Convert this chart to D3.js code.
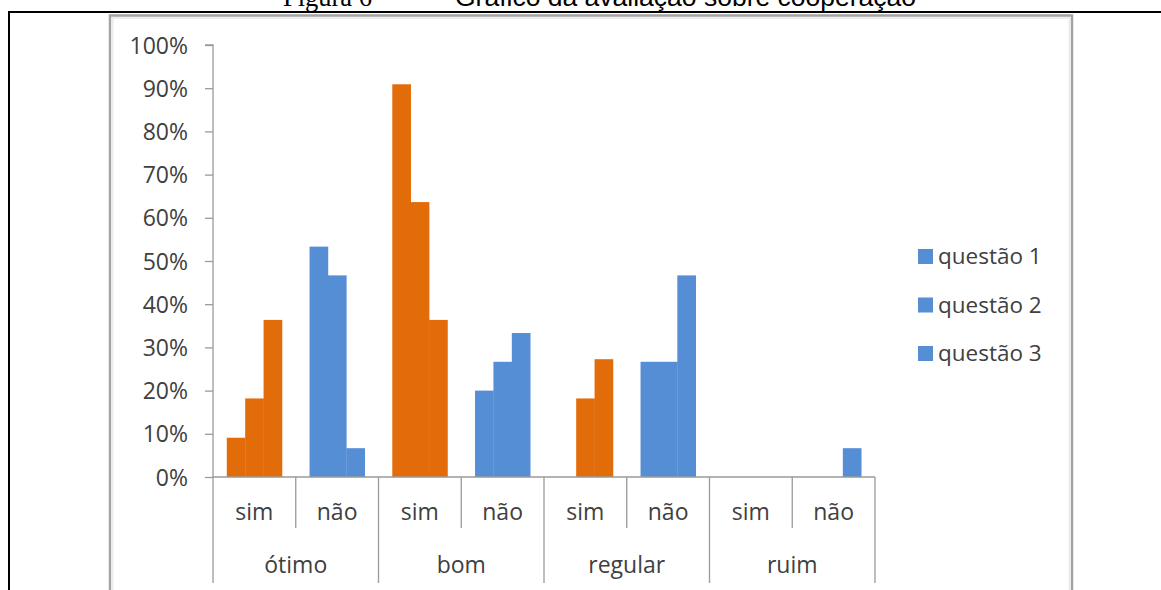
<!DOCTYPE html>
<html>
<head>
<meta charset="utf-8">
<script src="https://cdn.jsdelivr.net/npm/d3@7"></script>
<style>
  html, body { margin: 0; padding: 0; background: #ffffff; }
  svg { display: block; }
</style>
</head>
<body>
<svg id="chart" width="1161" height="590"></svg>
<script>
// Rating groups and the two answers shown under each of them
const groups = ["ótimo", "bom", "regular", "ruim"];
const answers = ["sim", "não"];
const seriesNames = ["questão 1", "questão 2", "questão 3"];

// Share of answers (%) for each group/answer pair, in the order
// ótimo-sim, ótimo-não, bom-sim, bom-não, regular-sim, regular-não, ruim-sim, ruim-não
const questao1 = [9.09, 53.33, 90.91, 20.00, 0, 26.67, 0, 0];
const questao2 = [18.18, 46.67, 63.64, 26.67, 18.18, 26.67, 0, 0];
const questao3 = [36.36, 6.67, 36.36, 33.33, 27.27, 46.67, 0, 6.67];

const yTicks = [0, 10, 20, 30, 40, 50, 60, 70, 80, 90, 100];

const answerColor = { "sim": "#E36C0A", "não": "#558ED5" };
const legendColor = "#558ED5";

const FONT = "'Open Sans', 'DejaVu Sans', sans-serif";
const TEXT = "#404040";
const AXIS = "#9a9a9a";

const svg = d3.select("#chart");

// Page caption and frame
svg.append("text")
  .attr("x", 372).attr("y", 6)
  .attr("text-anchor", "end")
  .attr("font-family", "'Liberation Serif', 'Times New Roman', serif")
  .attr("font-size", 26.5)
  .attr("fill", "#000")
  .text("Figura 6");
svg.append("text")
  .attr("x", 455).attr("y", 6)
  .attr("font-family", "'Liberation Sans', Arial, sans-serif")
  .attr("font-size", 26.5)
  .attr("fill", "#000")
  .text("Gráfico da avaliação sobre cooperação");

svg.append("line")
  .attr("x1", 8).attr("x2", 1161).attr("y1", 12).attr("y2", 12)
  .attr("stroke", "#000").attr("stroke-width", 2);
svg.append("line")
  .attr("x1", 9).attr("x2", 9).attr("y1", 11).attr("y2", 590)
  .attr("stroke", "#000").attr("stroke-width", 2);

// Chart area border
svg.append("rect")
  .attr("x", 110).attr("y", 15.5).attr("width", 962).attr("height", 620)
  .attr("fill", "#fff").attr("stroke", "#a3a3a3").attr("stroke-width", 2.5);
svg.append("rect")
  .attr("x", 112.5).attr("y", 18).attr("width", 957).attr("height", 620)
  .attr("fill", "none").attr("stroke", "#ececec").attr("stroke-width", 2);

// Category rows
const cats = [];
groups.forEach(g => answers.forEach(a => cats.push({ group: g, answer: a, key: g + "|" + a })));

const plot = { left: 213, right: 875, top: 45, bottom: 477 };

const x = d3.scaleBand()
  .domain(cats.map(c => c.key))
  .range([plot.left, plot.right])
  .paddingInner(1 / 3)
  .paddingOuter(1 / 6);

const xInner = d3.scaleBand()
  .domain(seriesNames)
  .range([0, x.bandwidth()])
  .padding(0);

const y = d3.scaleLinear()
  .domain([0, 100])
  .range([plot.bottom, plot.top]);

const seriesValues = [questao1, questao2, questao3];

// Bars
const barData = [];
cats.forEach((c, i) => {
  seriesNames.forEach((s, j) => {
    barData.push({ key: c.key, answer: c.answer, series: s, value: seriesValues[j][i] });
  });
});

svg.append("g")
  .selectAll("rect")
  .data(barData.filter(d => d.value > 0))
  .join("rect")
  .attr("x", d => x(d.key) + xInner(d.series))
  .attr("width", xInner.bandwidth() + 0.3)
  .attr("y", d => y(d.value))
  .attr("height", d => y(0) - y(d.value))
  .attr("fill", d => answerColor[d.answer]);

// Y axis
const yAxis = d3.axisLeft(y)
  .tickValues(yTicks)
  .tickSize(8)
  .tickPadding(17)
  .tickFormat(d => d + "%");

const gy = svg.append("g")
  .attr("transform", `translate(${plot.left},0)`)
  .call(yAxis);
gy.select(".domain").attr("stroke", AXIS).attr("stroke-width", 1.3)
  .attr("d", `M-8,${plot.top}H0V${plot.bottom}`);
gy.selectAll(".tick line").attr("stroke", AXIS).attr("stroke-width", 1.3);
gy.selectAll(".tick text")
  .attr("font-family", FONT)
  .attr("font-size", 23)
  .attr("fill", TEXT)
  .attr("dy", "0.35em");

// X axis: baseline and the two-level category dividers
const step = x.step();
const edge = k => x(k) - (step - x.bandwidth()) / 2;
const gx = svg.append("g");
gx.append("line")
  .attr("x1", plot.left).attr("x2", plot.right)
  .attr("y1", plot.bottom).attr("y2", plot.bottom)
  .attr("stroke", AXIS).attr("stroke-width", 1.3);

const dividers = cats.map((c, i) => ({ xPos: edge(c.key), major: i % 2 === 0 }));
dividers.push({ xPos: edge(cats[cats.length - 1].key) + step, major: true });

gx.selectAll("line.div")
  .data(dividers)
  .join("line")
  .attr("class", "div")
  .attr("x1", d => d.xPos).attr("x2", d => d.xPos)
  .attr("y1", plot.bottom)
  .attr("y2", d => d.major ? 583 : 528)
  .attr("stroke", AXIS).attr("stroke-width", 1.3);

gx.selectAll("text.sub")
  .data(cats)
  .join("text")
  .attr("class", "sub")
  .attr("x", d => x(d.key) + x.bandwidth() / 2)
  .attr("y", 520)
  .attr("text-anchor", "middle")
  .attr("font-family", FONT)
  .attr("font-size", 23)
  .attr("fill", TEXT)
  .text(d => d.answer);

gx.selectAll("text.grp")
  .data(groups)
  .join("text")
  .attr("class", "grp")
  .attr("x", g => edge(g + "|" + answers[0]) + step)
  .attr("y", 573)
  .attr("text-anchor", "middle")
  .attr("font-family", FONT)
  .attr("font-size", 23)
  .attr("fill", TEXT)
  .text(g => g);

// Legend
const legend = svg.append("g")
  .selectAll("g")
  .data(seriesNames)
  .join("g")
  .attr("transform", (d, i) => `translate(918,${264 + i * 48.5})`);
legend.append("rect")
  .attr("x", 0).attr("y", -15)
  .attr("width", 15).attr("height", 15)
  .attr("fill", legendColor);
legend.append("text")
  .attr("x", 20).attr("y", 0)
  .attr("font-family", FONT)
  .attr("font-size", 22.5)
  .attr("fill", TEXT)
  .text(d => d);
</script>
</body>
</html>
